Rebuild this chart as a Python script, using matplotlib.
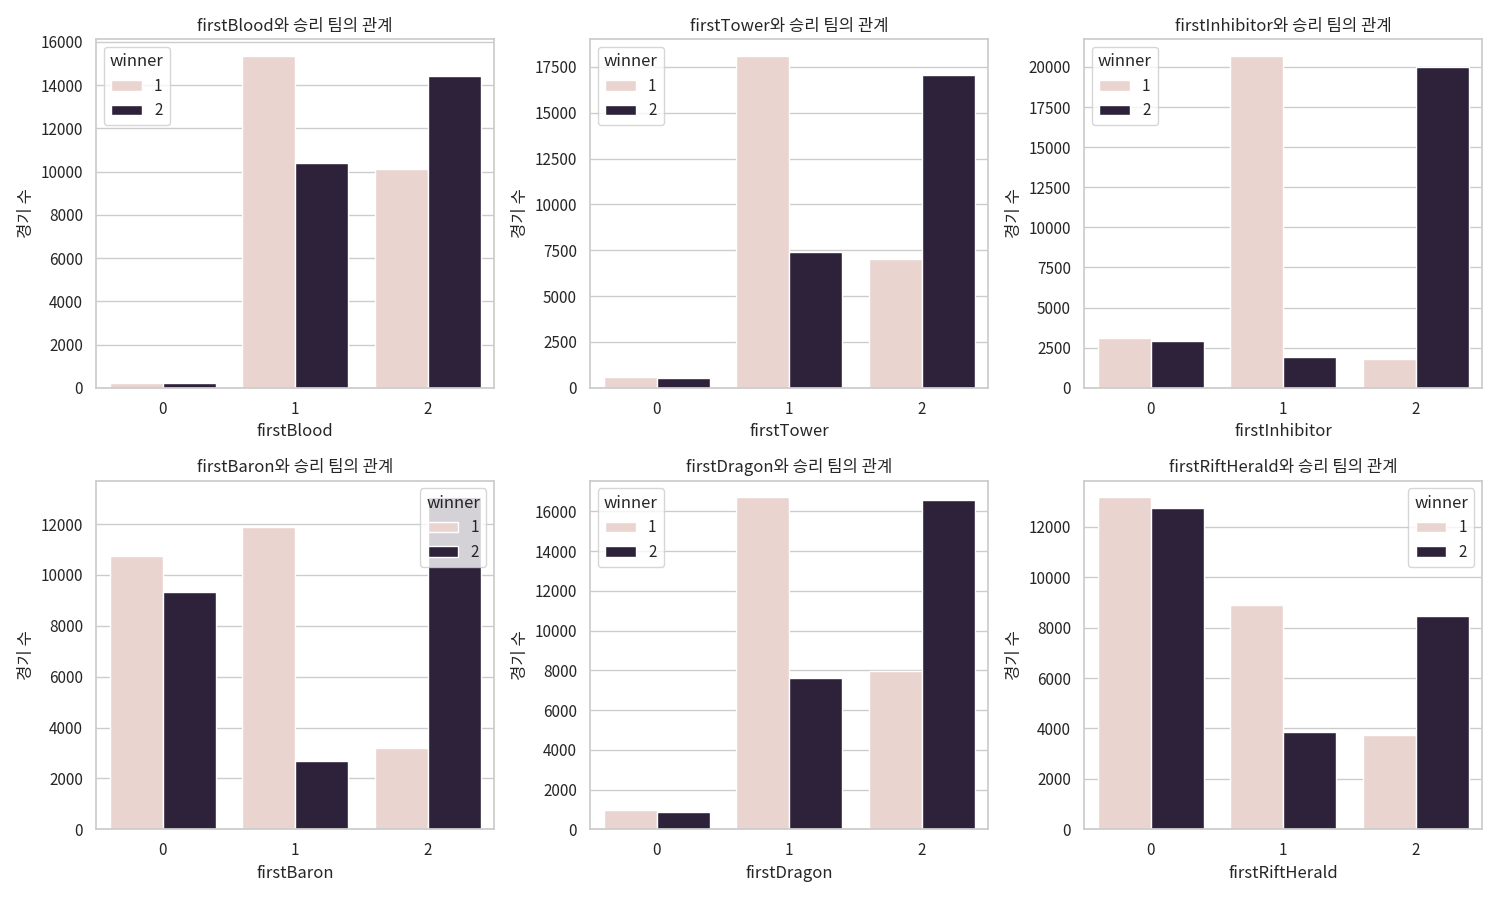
import matplotlib
matplotlib.use('Agg')
import matplotlib.pyplot as plt
import seaborn as sns
import pandas as pd

# values (game counts per category, per winner)
categories = [0, 1, 2]
winners    = [1, 2]

features = ['firstBlood', 'firstTower', 'firstInhibitor',
            'firstBaron', 'firstDragon', 'firstRiftHerald']

blood_w1     = [200, 15350, 10125]
blood_w2     = [220, 10400, 14420]
tower_w1     = [560, 18100, 7020]
tower_w2     = [550, 7380, 17060]
inhibitor_w1 = [3080, 20690, 1810]
inhibitor_w2 = [2940, 1940, 20000]
baron_w1     = [10750, 11870, 3185]
baron_w2     = [9330, 2700, 13050]
dragon_w1    = [990, 16700, 7970]
dragon_w2    = [875, 7630, 16550]
herald_w1    = [13165, 8890, 3720]
herald_w2    = [12730, 3870, 8475]

counts = {
  'firstBlood'      : (blood_w1, blood_w2),
  'firstTower'      : (tower_w1, tower_w2),
  'firstInhibitor'  : (inhibitor_w1, inhibitor_w2),
  'firstBaron'      : (baron_w1, baron_w2),
  'firstDragon'     : (dragon_w1, dragon_w2),
  'firstRiftHerald' : (herald_w1, herald_w2),
}

sns.set_theme(style='whitegrid')
plt.rcParams['font.family'] = ['Noto Sans CJK KR', 'DejaVu Sans']
plt.rcParams['axes.unicode_minus'] = False

fig, axes = plt.subplots(2, 3, figsize=(15, 9), dpi=100)

for ax, feat in zip(axes.flat, features):
  w1, w2 = counts[feat]
  df = pd.DataFrame({
    feat     : categories * 2,
    'count'  : w1 + w2,
    'winner' : [winners[0]] * 3 + [winners[1]] * 3,
  })
  sns.barplot(data=df, x=feat, y='count', hue='winner', ax=ax)
  ax.set_title(f'{feat}와 승리 팀의 관계')
  ax.set_ylabel('경기 수')
  ax.set_xlabel(feat)

plt.tight_layout()
plt.savefig('out.png', dpi=100)
